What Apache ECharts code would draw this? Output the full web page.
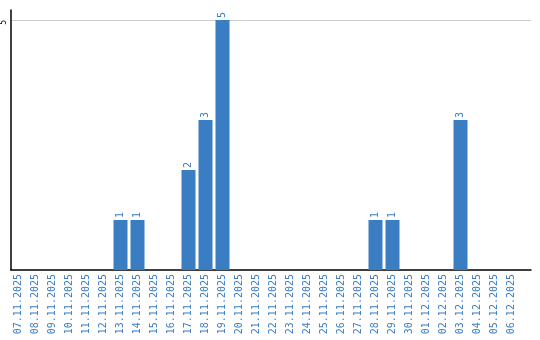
<!DOCTYPE html>
<html><head><meta charset="utf-8">
<script src="https://cdn.jsdelivr.net/npm/echarts@6/dist/echarts.min.js"></script>
<style>html,body{margin:0;padding:0;background:#fff}#c{width:540px;height:340px}</style>
</head><body><div id="c"></div>
<script>
var categories = ["07.11.2025","08.11.2025","09.11.2025","10.11.2025","11.11.2025","12.11.2025","13.11.2025","14.11.2025","15.11.2025","16.11.2025","17.11.2025","18.11.2025","19.11.2025","20.11.2025","21.11.2025","22.11.2025","23.11.2025","24.11.2025","25.11.2025","26.11.2025","27.11.2025","28.11.2025","29.11.2025","30.11.2025","01.12.2025","02.12.2025","03.12.2025","04.12.2025","05.12.2025","06.12.2025"];
var counts = [0,0,0,0,0,0,1,1,0,0,2,3,5,0,0,0,0,0,0,0,0,1,1,0,0,0,3,0,0,0];
var yMax = 5.2;
var yTick = 5;

var blue = '#3a7dc3';
var mono = '"DejaVu Sans Mono", "Liberation Mono", monospace';
var chart = echarts.init(document.getElementById('c'), null, {renderer:'canvas'});
chart.setOption({
  animation: false,
  grid: [
    {left: 10, top: 10, width: 510, height: 260, containLabel: false},
    {left: 10, top: 10, width: 521, height: 260, containLabel: false}
  ],
  xAxis: [
    {type: 'category', gridIndex: 0, data: categories,
     axisLine: {show: false}, axisTick: {show: false}, splitLine: {show: false},
     axisLabel: {interval: 0, rotate: 90, color: blue, fontFamily: mono, fontSize: 10, margin: 4}},
    {type: 'value', gridIndex: 1, min: 0, max: 1,
     axisLine: {show: true, onZero: false, lineStyle: {color: '#000', width: 1.5}},
     axisTick: {show: false}, axisLabel: {show: false}, splitLine: {show: false}}
  ],
  yAxis: [
    {type: 'value', gridIndex: 0, min: 0, max: yMax, show: false},
    {type: 'value', gridIndex: 1, min: 0, max: yMax, interval: yTick,
     axisLine: {show: true, lineStyle: {color: '#000', width: 1.5}},
     axisTick: {show: false},
     splitLine: {show: true, showMinLine: false, showMaxLine: false, lineStyle: {color: '#ccc', width: 1}},
     axisLabel: {showMinLabel: false, showMaxLabel: false, rotate: 90, align: 'right', verticalAlign: 'bottom',
       color: '#000', fontFamily: mono, fontSize: 8, margin: 3,
       formatter: function(v){ return v === yTick ? String(v) : ''; }}}
  ],
  series: [{
    type: 'bar', xAxisIndex: 0, yAxisIndex: 0, data: counts, barWidth: 14,
    itemStyle: {color: blue},
    label: {show: true, position: 'top', rotate: 90, align: 'left', verticalAlign: 'middle', distance: 2,
      color: blue, fontFamily: mono, fontSize: 10,
      formatter: function(p){ return p.value ? String(p.value) : ''; }}
  }]
});
</script></body></html>
